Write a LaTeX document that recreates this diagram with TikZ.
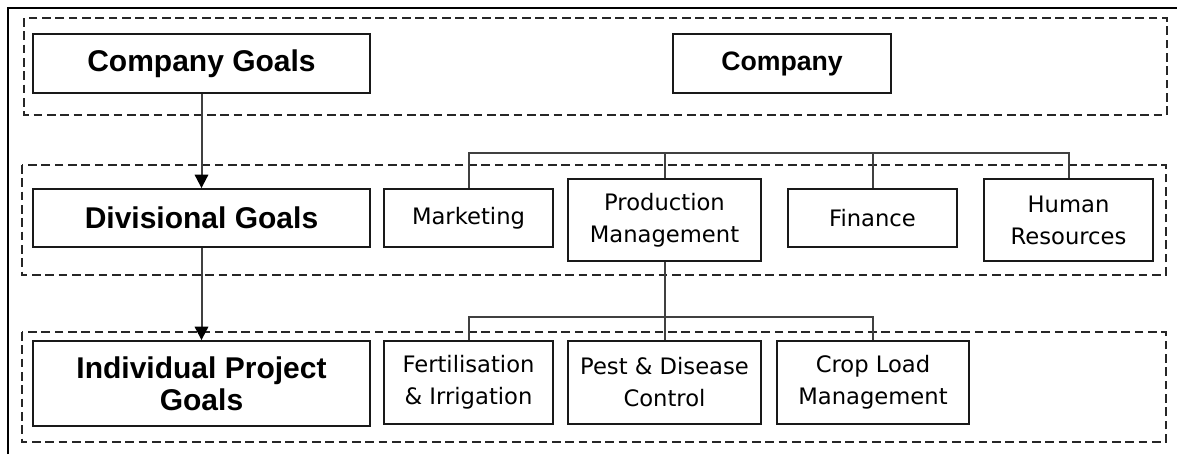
\documentclass[tikz,border=0pt]{standalone}
\usepackage{fontspec}
\setmainfont{DejaVu Sans}
\newfontfamily\headfont{Liberation Sans}
\usetikzlibrary{arrows.meta}
\begin{document}
\begin{tikzpicture}[x=0.75pt,y=-0.75pt,
  frame/.style={line width=1.3pt,black},
  groupbox/.style={draw=black!85,line width=1.1pt,dash pattern=on 6.5pt off 3.5pt},
  unitbox/.style={draw=black!90,line width=1.4pt,inner sep=0pt,align=center,
     font=\fontsize{17pt}{24pt}\selectfont},
  goalbox/.style={unitbox,font=\headfont\bfseries\fontsize{22.5pt}{24pt}\selectfont},
  link/.style={draw=black!75,line width=1.5pt},
  arr/.style={link,-{Triangle[length=10pt,width=10pt,fill=black,color=black]}}]
\useasboundingbox (0,0) rectangle (1177,454);
% outer frame
\draw[frame] (8,454) -- (8,8) -- (1177,8);
% group frames
\draw[groupbox] (24,18) rectangle (1167,115);
\draw[groupbox] (22,165) rectangle (1166,275);
\draw[groupbox] (22,332) rectangle (1166,442);
% left column
\node[goalbox,minimum width=252.75pt,minimum height=44.25pt] (cg) at (201.5,63.5) {Company Goals};
\node[goalbox,minimum width=252.75pt,minimum height=43.5pt] (dg) at (201.5,218) {Divisional Goals};
\node[goalbox,minimum width=252.75pt,minimum height=63.75pt] (ipg) at (201.5,383.5) {Individual Project\\Goals};
% company
\node[unitbox,font=\headfont\bfseries\fontsize{20pt}{24pt}\selectfont,minimum width=163.5pt,minimum height=44.25pt] (co) at (782,63.5) {Company};
% divisions
\node[unitbox,minimum width=126.75pt,minimum height=43.5pt] (mkt) at (468.5,218) {Marketing};
\node[unitbox,minimum width=144.75pt,minimum height=61.5pt] (prod) at (664.5,220) {Production\\Management};
\node[unitbox,minimum width=126.75pt,minimum height=43.5pt] (fin) at (872.5,218) {Finance};
\node[unitbox,minimum width=126.75pt,minimum height=61.5pt] (hr) at (1068.5,220) {Human\\Resources};
% projects
\node[unitbox,minimum width=126.75pt,minimum height=62.25pt] (fert) at (468.5,382.5) {Fertilisation\\\&~Irrigation};
\node[unitbox,minimum width=144.75pt,minimum height=62.25pt] (pest) at (664.5,382.5) {Pest \& Disease\\Control};
\node[unitbox,minimum width=144pt,minimum height=62.25pt] (crop) at (873,382.5) {Crop Load\\Management};
% buses
\coordinate (bus1) at (0,153);
\coordinate (bus2) at (0,317);
\draw[link] (mkt.north) |- (hr.north |- bus1) -- (hr.north);
\draw[link] (prod.north) -- (prod.north |- bus1);
\draw[link] (fin.north) -- (fin.north |- bus1);
\draw[link] (fert.north) |- (crop.north |- bus2) -- (crop.north);
\draw[link] (prod.south) -- (pest.north);
% arrows
\draw[arr] (cg.south) -- (dg.north);
\draw[arr] (dg.south) -- (ipg.north);
\end{tikzpicture}
\end{document}
